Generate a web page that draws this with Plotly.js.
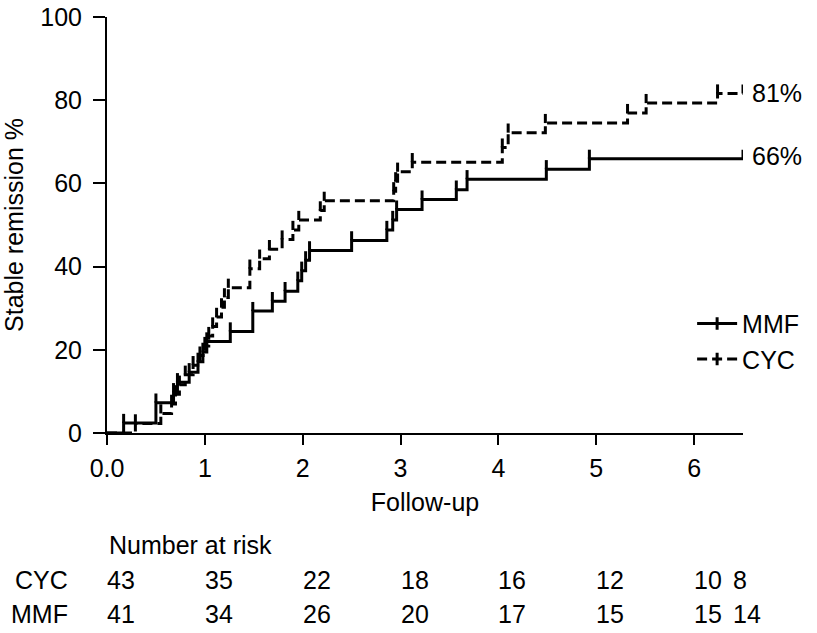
<!DOCTYPE html>
<html>
<head>
<meta charset="utf-8">
<script src="https://cdn.plot.ly/plotly-3.0.1.min.js"></script>
<style>html,body{margin:0;padding:0;background:#fff;}#chart{width:817px;height:633px;}</style>
</head>
<body>
<div id="chart"></div>
<script>
// ---- data ----
const mmfTime = [0, 0.17, 0.50, 0.68, 0.72, 0.84, 0.93, 0.98, 1.02, 1.26, 1.49, 1.69, 1.82, 1.95, 1.99, 2.03, 2.07, 2.50, 2.86, 2.92, 2.96, 3.22, 3.57, 3.68, 4.49, 4.93, 6.50];
const mmfPct  = [0, 2.4, 7.3, 9.8, 12.2, 14.6, 17.1, 19.5, 22.0, 24.4, 29.3, 31.7, 34.1, 36.6, 39.0, 41.5, 43.9, 46.3, 48.8, 51.2, 53.7, 56.1, 58.5, 61.0, 63.4, 65.9, 65.9];
const cycTime = [0, 0.29, 0.55, 0.66, 0.70, 0.74, 0.80, 0.88, 0.95, 1.00, 1.04, 1.08, 1.12, 1.17, 1.20, 1.24, 1.46, 1.56, 1.66, 1.79, 1.90, 1.96, 2.18, 2.22, 2.93, 2.95, 2.97, 3.12, 4.04, 4.10, 4.48, 5.32, 5.51, 6.24, 6.50];
const cycPct  = [0, 2.3, 4.7, 7.0, 9.3, 11.6, 14.0, 16.3, 18.6, 20.9, 23.3, 25.6, 27.9, 30.2, 32.6, 34.9, 39.5, 41.9, 44.2, 46.5, 48.8, 51.2, 53.5, 55.8, 58.1, 60.5, 62.8, 65.1, 68.6, 72.2, 74.5, 76.9, 79.3, 81.6, 81.6];
const mmfCensor = mmfTime.slice(1);
const cycCensor = cycTime.slice(1);
const xTickVals = [0, 1, 2, 3, 4, 5, 6];
const xTickText = ['0.0', '1', '2', '3', '4', '5', '6'];
const riskTimes = [0, 1, 2, 3, 4, 5, 6, 6.40];
const riskCYC = [43, 35, 22, 18, 16, 12, 10, 8];
const riskMMF = [41, 34, 26, 20, 17, 15, 15, 14];
const finalLabels = ['66%', '81%'];

// ---- helpers ----
function stepAt(times, vals, t) {
  let v = vals[0];
  for (let i = 0; i < times.length; i++) { if (times[i] <= t) v = vals[i]; }
  return v;
}
const FONT = 'Liberation Sans, Arial, Helvetica, sans-serif';
const FS = 25;
const TICK_H = 2.2;

function censorTrace(times, stepT, stepV) {
  return {
    x: times, y: times.map(t => stepAt(stepT, stepV, t)),
    mode: 'markers', type: 'scatter', showlegend: false, hoverinfo: 'skip',
    marker: {size: 1, opacity: 0, color: 'black'},
    error_y: {type: 'data', symmetric: false, array: times.map(() => TICK_H),
              arrayminus: times.map(() => 0), width: 0, thickness: 3, color: 'black'},
    cliponaxis: false
  };
}

const traces = [
  {x: mmfTime, y: mmfPct, type: 'scatter', mode: 'lines', name: 'MMF', showlegend: false,
   line: {shape: 'hv', color: 'black', width: 3}},
  {x: cycTime, y: cycPct, type: 'scatter', mode: 'lines', name: 'CYC', showlegend: false,
   line: {shape: 'hv', color: 'black', width: 3, dash: '10px,5px'}},
  censorTrace(mmfCensor, mmfTime, mmfPct),
  censorTrace(cycCensor, cycTime, cycPct),
  {x: [null], y: [null], type: 'scatter', mode: 'lines+markers', name: 'MMF',
   line: {color: 'black', width: 3}, marker: {symbol: 'line-ns-open', size: 9, line: {width: 3, color: 'black'}}},
  {x: [null], y: [null], type: 'scatter', mode: 'lines+markers', name: 'CYC',
   line: {color: 'black', width: 3, dash: '10px,5px'}, marker: {symbol: 'line-ns-open', size: 9, line: {width: 3, color: 'black'}}}
];

const tf = {size: FS, family: FONT, color: 'black'};
const annotations = [];
const pyToPaper = py => (433 - py) / 416;
annotations.push({xref: 'x', yref: 'paper', x: 0, y: pyToPaper(545), xanchor: 'left', yanchor: 'middle',
  text: 'Number at risk', showarrow: false, xshift: 0, font: tf});
annotations.push({xref: 'paper', yref: 'paper', x: (70 - 107) / 636, y: pyToPaper(580), xanchor: 'right', yanchor: 'middle',
  text: 'CYC', showarrow: false, font: tf});
annotations.push({xref: 'paper', yref: 'paper', x: (70 - 107) / 636, y: pyToPaper(614), xanchor: 'right', yanchor: 'middle',
  text: 'MMF', showarrow: false, font: tf});
riskTimes.forEach((t, i) => {
  annotations.push({xref: 'x', yref: 'paper', x: t, y: pyToPaper(580), xanchor: 'left', yanchor: 'middle',
    text: String(riskCYC[i]), showarrow: false, xshift: -2, font: tf});
  annotations.push({xref: 'x', yref: 'paper', x: t, y: pyToPaper(614), xanchor: 'left', yanchor: 'middle',
    text: String(riskMMF[i]), showarrow: false, xshift: -2, font: tf});
});
annotations.push({xref: 'x', yref: 'y', x: mmfTime[mmfTime.length - 1], y: mmfPct[mmfPct.length - 1],
  xanchor: 'left', yanchor: 'middle', text: finalLabels[0], showarrow: false, xshift: 7, yshift: 3, font: tf});
annotations.push({xref: 'x', yref: 'y', x: cycTime[cycTime.length - 1], y: cycPct[cycPct.length - 1],
  xanchor: 'left', yanchor: 'middle', text: finalLabels[1], showarrow: false, xshift: 7, yshift: 1, font: tf});

const layout = {
  width: 817, height: 633,
  margin: {l: 107, r: 74, t: 17, b: 200},
  paper_bgcolor: 'white', plot_bgcolor: 'white',
  font: tf,
  showlegend: true,
  legend: {x: 0.92, y: 0.318, xanchor: 'left', yanchor: 'top', bgcolor: 'rgba(0,0,0,0)',
           font: tf, itemwidth: 40, tracegroupgap: 0},
  xaxis: {range: [0, 6.5], tickvals: xTickVals, ticktext: xTickText, ticks: 'outside', ticklen: 10,
          tickwidth: 2, tickcolor: 'black', showline: true, linewidth: 2, linecolor: 'black',
          showgrid: false, zeroline: false, tickfont: tf, ticklabelstandoff: 2,
          title: {text: 'Follow-up', font: tf, standoff: 12},
          automargin: false},
  yaxis: {range: [0, 100], tickvals: [0, 20, 40, 60, 80, 100], ticks: 'outside', ticklen: 12,
          tickwidth: 2, tickcolor: 'black', showline: true, linewidth: 2, linecolor: 'black',
          showgrid: false, zeroline: false, tickfont: tf, ticklabelstandoff: 6,
          title: {text: 'Stable remission %', font: tf, standoff: 10},
          automargin: false},
  annotations: annotations
};

Plotly.newPlot('chart', traces, layout, {displayModeBar: false, staticPlot: true});
</script>
</body>
</html>
